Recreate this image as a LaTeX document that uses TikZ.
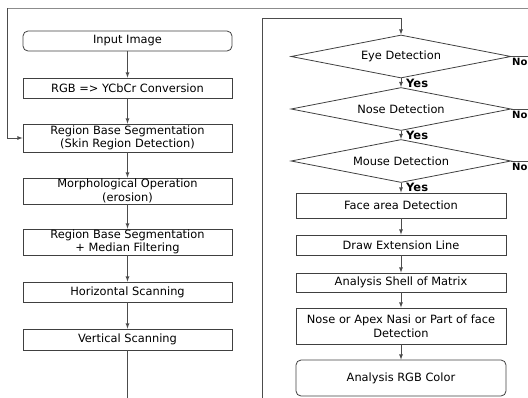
\documentclass[tikz,border=0pt]{standalone}
\usepackage{fontspec}
\setmainfont{DejaVu Sans}
\usetikzlibrary{positioning}
\usetikzlibrary{arrows}
\usetikzlibrary{shapes}
\tikzset{
        flownode/.style={align=center,inner sep=0pt,draw=black!75,line width=0.8pt,font=\fontsize{11.4}{13.5}\selectfont},
        % Process steps
        node_process/.style={flownode, rectangle},
        % Start and end steps
        node_terminal/.style={flownode, rectangle, rounded corners=5pt},
        % Decisions
        node_decision/.style={flownode, diamond, aspect=5.1, minimum width=220pt, minimum height=43pt},
        % Yes / No labels
        node_answer/.style={inner sep=0pt, anchor=north west, font=\fontsize{11.5}{12}\selectfont\bfseries},
        node_no/.style={node_answer, font=\fontsize{10}{12}\selectfont\bfseries},
        % Connectors
        flow/.style={->, draw=black!70, line width=0.8pt}
}

\begin{document}
\begin{tikzpicture}[
            x=1pt, y=-1pt,
            >=latex,
            left col/.style={minimum width=209pt},
            right col/.style={minimum width=210pt}
        ]
            \useasboundingbox (0,0) rectangle (528,397);

            % left column
            \node[node_terminal, left col, minimum height=20pt] (input) at (127.5,41) {Input Image};
            \node[node_process, left col, minimum height=20pt] (rgb) at (127.5,88) {RGB => YCbCr Conversion};
            \node[node_process, left col, minimum height=28pt] (seg) at (127.5,138) {Region Base Segmentation\\(Skin Region Detection)};
            \node[node_process, left col, minimum height=26pt] (morph) at (127.5,191) {Morphological Operation\\(erosion)};
            \node[node_process, left col, minimum height=26pt] (median) at (127.5,242) {Region Base Segmentation\\+ Median Filtering};
            \node[node_process, left col, minimum height=20pt] (hscan) at (127.5,292) {Horizontal Scanning};
            \node[node_process, left col, minimum height=21pt] (vscan) at (127.5,339.5) {Vertical Scanning};

            % right column
            \node[node_decision] (eye) at (401,56.5) {Eye Detection};
            \node[node_decision] (nose) at (401,109) {Nose Detection};
            \node[node_decision] (mouse) at (401,161) {Mouse Detection};
            \node[node_process, right col, minimum height=25pt] (face) at (401,205.5) {Face area Detection};
            \node[node_process, right col, minimum height=20pt] (ext) at (401,245) {Draw Extension Line};
            \node[node_process, right col, minimum height=19pt] (shell) at (401,282.5) {Analysis Shell of Matrix};
            \node[node_process, right col, minimum height=36pt] (apex) at (401,326) {Nose or Apex Nasi or Part of face\\Detection};
            \node[node_terminal, right col, minimum height=36pt] (rgbcol) at (401,378) {Analysis RGB Color};

            \node[node_answer] (yes_eye) at (406,78.5) {Yes};
            \node[node_answer] (yes_nose) at (406,131) {Yes};
            \node[node_answer] (yes_mouse) at (406,183) {Yes};
            \node[node_no] (no_eye) at (512,58.5) {No};
            \node[node_no] (no_nose) at (512,111) {No};
            \node[node_no] (no_mouse) at (512,163) {No};

            \coordinate (loop_tl) at (7,8);
            \coordinate (loop_tr) at (545,8);
            \coordinate (bend_bl) at (127.5,415);
            \coordinate (bend_br) at (262,415);
            \coordinate (bend_tr) at (262,18);

            \draw[flow] (input) -- (rgb);
            \draw[flow] (rgb) -- (seg);
            \draw[flow] (seg) -- (morph);
            \draw[flow] (morph) -- (median);
            \draw[flow] (median) -- (hscan);
            \draw[flow] (hscan) -- (vscan);
            \draw[flow] (vscan) -- (bend_bl) -- (bend_br) -- (bend_tr) -| (eye);
            \draw[flow] (eye) -- (nose);
            \draw[flow] (nose) -- (mouse);
            \draw[flow] (mouse) -- (face);
            \draw[flow] (face) -- (ext);
            \draw[flow] (ext) -- (shell);
            \draw[flow] (shell) -- (apex);
            \draw[flow] (apex) -- (rgbcol);

            % back to segmentation
            \draw[flow, -] (eye) -- (eye -| loop_tr);
            \draw[flow, -] (nose) -- (nose -| loop_tr);
            \draw[flow, -] (mouse) -- (mouse -| loop_tr) -- (loop_tr);
            \draw[flow, -, draw=black!45, line width=1pt] (loop_tr) -- (loop_tl);
            \draw[flow] (loop_tl) |- (seg);
\end{tikzpicture}
\end{document}
